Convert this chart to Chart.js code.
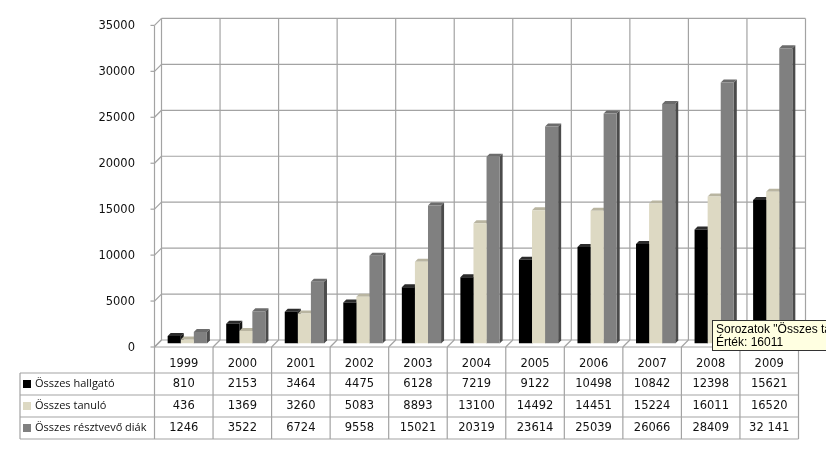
<!DOCTYPE html>
<html>
<head>
<meta charset="utf-8">
<script src="https://cdn.jsdelivr.net/npm/chart.js@4"></script>
<style>
  html, body { margin: 0; padding: 0; background: #fff; }
  #chart { display: block; }
</style>
</head>
<body>
<canvas id="chart" width="826" height="449"></canvas>
<script>
const YEARS     = ["1999", "2000", "2001", "2002", "2003", "2004", "2005", "2006", "2007", "2008", "2009"];
const HALLGATO  = [810, 2153, 3464, 4475, 6128, 7219, 9122, 10498, 10842, 12398, 15621];
const TANULO    = [436, 1369, 3260, 5083, 8893, 13100, 14492, 14451, 15224, 16011, 16520];
const RESZTVEVO = [1246, 3522, 6724, 9558, 15021, 20319, 23614, 25039, 26066, 28409, 32141];
const SERIES_NAMES = ["Összes hallgató", "Összes tanuló", "Összes résztvevő diák"];
// what the table prints (last cell keeps the space like the original)
const TABLE_TEXT = [
  HALLGATO.map(String),
  TANULO.map(String),
  RESZTVEVO.map((v, i) => i === RESZTVEVO.length - 1 ? "32 141" : String(v)),
];
const TOOLTIP_LINES = ["Sorozatok \"Összes tanuló\" Pont \"2008\"", "Érték: 16011"];

const COLORS = [
  { front: "#000000", top: "#2b2b2b", side: "#151515" },
  { front: "#ddd9c3", top: "#b9b5a1", side: "#a9a590" },
  { front: "#808080", top: "#6c6c6c", side: "#4b4b4b" },
];

const OFF   = 3.5;   // half of the floor depth
const DEPTH = 3;     // bar depth
const GRID  = "#a3a3a3";
const TABLE_LINES = [373, 395, 417, 439];
const TABLE_LEFT  = 20;

function line(ctx, x1, y1, x2, y2) {
  ctx.beginPath();
  ctx.moveTo(x1, y1);
  ctx.lineTo(x2, y2);
  ctx.stroke();
}

const threeD = {
  id: "threeD",
  beforeDatasetsDraw(chart) {
    const { ctx, chartArea: a, scales: { y } } = chart;
    const w = (a.right - a.left) / YEARS.length;
    ctx.save();
    ctx.strokeStyle = GRID;
    ctx.lineWidth = 1.2;
    // back wall horizontals + left wall diagonals + ticks
    y.ticks.forEach(t => {
      const py = y.getPixelForValue(t.value);
      line(ctx, a.left + OFF, py - OFF, a.right + OFF, py - OFF);
      line(ctx, a.left - OFF, py + OFF, a.left + OFF, py - OFF);
      line(ctx, a.left - OFF - 4, py + OFF, a.left - OFF, py + OFF);
    });
    // front axis
    line(ctx, a.left - OFF, a.top + OFF, a.left - OFF, a.bottom + OFF);
    // category verticals on back wall, floor and table
    for (let k = 0; k <= YEARS.length; k++) {
      const px = a.left + k * w;
      line(ctx, px + OFF, a.top - OFF, px + OFF, a.bottom - OFF);
      line(ctx, px + OFF, a.bottom - OFF, px - OFF, a.bottom + OFF);
      line(ctx, px - OFF, a.bottom + OFF, px - OFF, TABLE_LINES[3]);
    }
    line(ctx, a.left - OFF, a.bottom + OFF, a.right - OFF, a.bottom + OFF);
    // table
    TABLE_LINES.forEach(ty => line(ctx, TABLE_LEFT, ty, a.right - OFF, ty));
    line(ctx, TABLE_LEFT, TABLE_LINES[0], TABLE_LEFT, TABLE_LINES[3]);

    // bar tops and sides (fronts drawn later by Chart.js cover hidden parts)
    chart.data.datasets.forEach((ds, di) => {
      const meta = chart.getDatasetMeta(di);
      meta.data.forEach(bar => {
        const l = bar.x - bar.width / 2, r = bar.x + bar.width / 2;
        const top = bar.y, base = bar.base;
        ctx.fillStyle = COLORS[di].side;
        ctx.beginPath();
        ctx.moveTo(r, top); ctx.lineTo(r + DEPTH, top - DEPTH);
        ctx.lineTo(r + DEPTH, base - DEPTH); ctx.lineTo(r, base);
        ctx.closePath(); ctx.fill();
        ctx.fillStyle = COLORS[di].top;
        ctx.beginPath();
        ctx.moveTo(l, top); ctx.lineTo(r, top);
        ctx.lineTo(r + DEPTH, top - DEPTH); ctx.lineTo(l + DEPTH, top - DEPTH);
        ctx.closePath(); ctx.fill();
      });
    });
    ctx.restore();
  },
  afterDraw(chart) {
    const { ctx, scales: { x } } = chart;
    ctx.save();
    ctx.fillStyle = "#111";
    ctx.textAlign = "center";
    ctx.textBaseline = "middle";
    ctx.font = "11.5px 'DejaVu Sans'";
    YEARS.forEach((yr, i) => {
      ctx.fillText(yr, x.getPixelForValue(i) - OFF, 364);
    });
    const rowMid = [384, 406, 428];
    TABLE_TEXT.forEach((row, ri) => {
      row.forEach((txt, i) => ctx.fillText(txt, x.getPixelForValue(i) - OFF, rowMid[ri]));
    });
    ctx.textAlign = "left";
    ctx.font = "11px 'Open Sans'";
    SERIES_NAMES.forEach((name, ri) => {
      ctx.fillStyle = COLORS[ri].front;
      ctx.fillRect(23, rowMid[ri] - 4, 8, 8);
      ctx.fillStyle = "#111";
      ctx.fillText(name, 35, rowMid[ri]);
    });
    // Excel hover tooltip captured in the picture
    ctx.fillStyle = "#ffffe1";
    ctx.fillRect(712, 320, 130, 31);
    ctx.strokeStyle = "#333";
    ctx.lineWidth = 1;
    ctx.strokeRect(712.5, 320.5, 130, 30);
    ctx.fillStyle = "#000";
    ctx.font = "12px 'Liberation Sans'";
    ctx.fillText(TOOLTIP_LINES[0], 716, 330);
    ctx.fillText(TOOLTIP_LINES[1], 716, 343);
    ctx.restore();
  },
};

new Chart(document.getElementById("chart"), {
  type: "bar",
  data: {
    labels: YEARS,
    datasets: [
      { label: SERIES_NAMES[0], data: HALLGATO,  backgroundColor: COLORS[0].front },
      { label: SERIES_NAMES[1], data: TANULO,    backgroundColor: COLORS[1].front },
      { label: SERIES_NAMES[2], data: RESZTVEVO, backgroundColor: COLORS[2].front },
    ],
  },
  options: {
    responsive: false,
    animation: false,
    layout: { padding: { top: 21.5, right: 24, bottom: 105.5, left: 0 } },
    datasets: { bar: { categoryPercentage: 0.67, barPercentage: 1.0 } },
    plugins: { legend: { display: false }, tooltip: { enabled: false } },
    scales: {
      x: { display: false },
      y: {
        min: 0, max: 35000,
        afterFit: s => { s.width = 158; },
        grid: { display: false },
        border: { display: false },
        ticks: {
          stepSize: 5000,
          padding: 15,
          labelOffset: OFF + 1,
          color: "#111",
          font: { family: "'DejaVu Sans', sans-serif", size: 11.5 },
          callback: v => String(v),
        },
      },
    },
  },
  plugins: [threeD],
});
</script>
</body>
</html>
